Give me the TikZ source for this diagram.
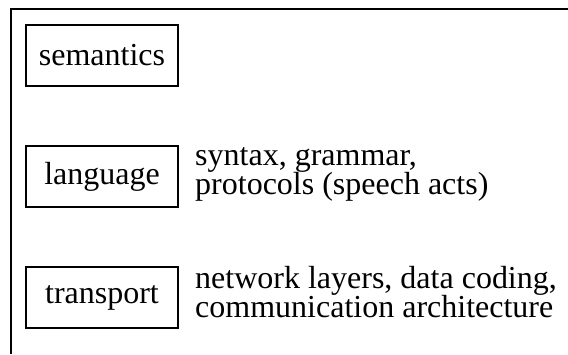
\documentclass[tikz,border=0pt]{standalone}
\usepackage{fontspec}
\setmainfont{Liberation Serif}
\begin{document}
\begin{tikzpicture}[x=1pt,y=-1pt,
  layerbox/.style={draw,line width=1.3pt,minimum width=152pt,minimum height=61pt,inner sep=0pt,font=\fontsize{32}{28}\selectfont},
  desc/.style={anchor=base west,inner sep=0pt,font=\fontsize{32}{28}\selectfont}]
\useasboundingbox (0,0) rectangle (568,354);
\coordinate (tl) at (11,9);
\coordinate (tr) at (568,9);
\coordinate (bl) at (11,354);
\draw[line width=1.5pt] (tr) -- (tl) -- (bl);
\node[layerbox] (sem) at (102,55.5) {semantics};
\node[layerbox] (lang) at (102,176.5) {language};
\node[layerbox] (trans) at (102,297.5) {transport};
\node[desc] (langa) at (195,165) {syntax, grammar,};
\node[desc] (langb) at (195,194) {protocols (speech acts)};
\node[desc] (transa) at (195,288) {network layers, data coding,};
\node[desc] (transb) at (195,317) {communication architecture};
\end{tikzpicture}
\end{document}
